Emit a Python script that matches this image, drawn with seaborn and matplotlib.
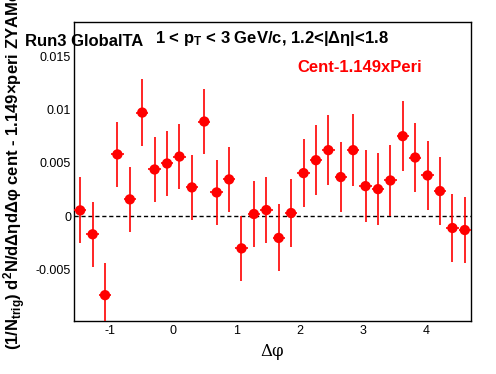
import numpy as np
import pandas as pd
import seaborn as sns
import matplotlib
matplotlib.use('Agg')
import matplotlib.pyplot as plt
from matplotlib.ticker import MultipleLocator, FixedLocator

# bin centres in delta phi (32 bins over [-pi/2, 3pi/2])
dphi = [-1.473, -1.276, -1.080, -0.884, -0.687, -0.491, -0.295, -0.098,
        0.098, 0.295, 0.491, 0.687, 0.884, 1.080, 1.276, 1.473,
        1.669, 1.865, 2.062, 2.258, 2.454, 2.651, 2.847, 3.043,
        3.240, 3.436, 3.632, 3.829, 4.025, 4.221, 4.418, 4.614]
yield_diff = [0.00056, -0.00168, -0.00738, 0.0058, 0.00159, 0.00972, 0.00439, 0.00495,
              0.0056, 0.00271, 0.00888, 0.00224, 0.00346, -0.0030, 0.00022, 0.00059,
              -0.00202, 0.00031, 0.00405, 0.00526, 0.0062, 0.00368, 0.0062, 0.00283,
              0.00255, 0.00336, 0.00751, 0.00551, 0.00383, 0.00237, -0.00109, -0.00128]
yield_err = [0.00308, 0.00307, 0.0030, 0.00305, 0.00307, 0.00312, 0.00307, 0.00302,
             0.00304, 0.00307, 0.0030, 0.00305, 0.00302, 0.00304, 0.00307, 0.00308,
             0.00313, 0.00318, 0.00318, 0.00326, 0.00326, 0.0033, 0.00335, 0.00335,
             0.00338, 0.0033, 0.0033, 0.00326, 0.00326, 0.00316, 0.00316, 0.00307]
BIN_HALF = np.pi / 32

df = pd.DataFrame({'dphi': dphi, 'y': yield_diff, 'err': yield_err})

sns.set_style('white')
plt.rcParams['font.family'] = ['Liberation Sans', 'DejaVu Sans']
plt.rcParams['text.color'] = 'black'
plt.rcParams['mathtext.fontset'] = 'custom'
plt.rcParams['mathtext.rm'] = 'Liberation Sans:bold'
plt.rcParams['mathtext.it'] = 'Liberation Sans:bold'
plt.rcParams['mathtext.bf'] = 'Liberation Sans:bold'

fig = plt.figure(figsize=(4.96, 3.74), dpi=100)
ax = fig.add_axes([74 / 496, 53 / 374, 397 / 496, 299 / 374])

ax.errorbar(df.dphi, df.y, yerr=df.err, xerr=BIN_HALF, fmt='none',
            ecolor='red', elinewidth=1.2, capsize=0, zorder=3)
sns.scatterplot(data=df, x='dphi', y='y', ax=ax, color='red', s=55,
                edgecolor='none', marker='o', zorder=4, legend=False)
ax.axhline(0, color='black', linestyle=(0, (3, 2)), linewidth=1.0, zorder=2)

ax.set_xlim(-np.pi / 2, 3 * np.pi / 2)
ax.set_ylim(-0.0098, 0.0182)

ax.xaxis.set_major_locator(FixedLocator([-1, 0, 1, 2, 3, 4]))
ax.xaxis.set_minor_locator(MultipleLocator(0.2))
ax.yaxis.set_major_locator(FixedLocator([-0.005, 0, 0.005, 0.01, 0.015]))
ax.yaxis.set_minor_locator(MultipleLocator(0.001))
ax.set_xticklabels(['-1', '0', '1', '2', '3', '4'])
ax.set_yticklabels(['-0.005', '0', '0.005', '0.01', '0.015'])
ax.tick_params(axis='both', which='both', direction='in', labelsize=9,
               colors='black', labelcolor='black')
ax.tick_params(axis='y', which='major', length=8.6, pad=2)
ax.tick_params(axis='y', which='minor', length=4.3)
ax.tick_params(axis='x', which='major', length=6.5, pad=3)
ax.tick_params(axis='x', which='minor', length=3.4)
for s in ax.spines.values():
    s.set_color('black')
    s.set_linewidth(1.0)

ax.set_xlabel('')
ax.set_ylabel('')
fig.text(272 / 496, 1 - 352 / 374, 'Δφ', family='DejaVu Serif', fontsize=12,
         ha='center', va='center')
fig.text(15 / 496, 1 - 350 / 374,
         r'(1/N$_{trig}$) d$^{2}$N/dΔηdΔφ cent - 1.149×peri ZYAMed',
         rotation=90, rotation_mode='anchor', ha='left', va='center',
         fontsize=12, fontweight='bold')

fig.text(25 / 496, 1 - 42 / 374, 'Run3 GlobalTA', fontsize=12, fontweight='bold',
         ha='left', va='center')
fig.text(155 / 496, 1 - 38 / 374, r'1 < p$_{T}$ < 3 GeV/c, 1.2<|Δη|<1.8',
         fontsize=12, fontweight='bold', ha='left', va='center')
fig.text(297 / 496, 1 - 68 / 374, 'Cent-1.149xPeri', fontsize=12, fontweight='bold',
         color='red', ha='left', va='center')

fig.savefig('out.png', dpi=100, facecolor='white')
